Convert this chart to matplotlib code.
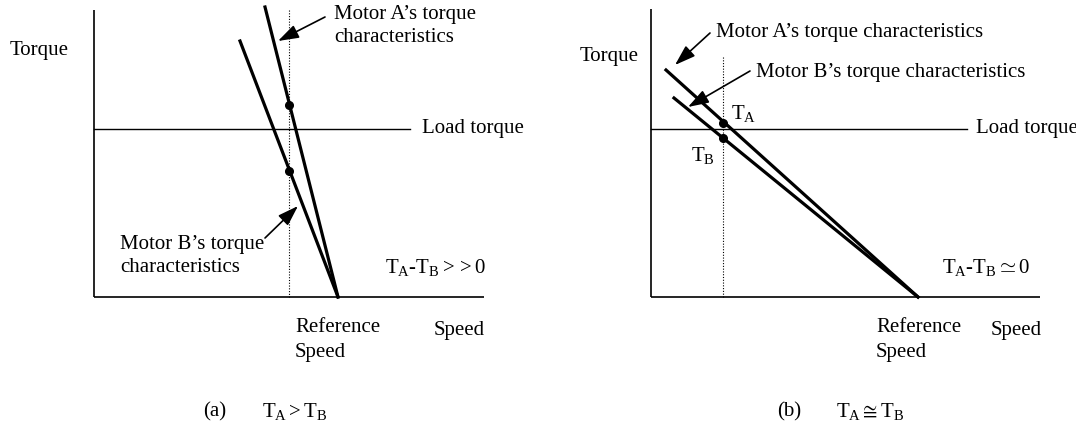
import matplotlib.pyplot as plt
import matplotlib as mpl

params = {
    "font.family": ["Liberation Serif", "DejaVu Serif"],
    "font.size": 15,
    "mathtext.fontset": "custom",
    "mathtext.rm": "Liberation Serif",
    "mathtext.it": "Liberation Serif:italic",
    "figure.figsize": [10.76, 4.3],
    "figure.dpi": 100,
}
mpl.rcParams.update(params)

# panel layout in pixel units of the figure (x right, y down)
# (a) T_A > T_B
a_origin = (94, 297)
a_axis_top = 10
a_axis_right = 484
a_load_y = 129
a_load_end = 410
a_ref_x = 289
a_motor_a = ([265, 338], [7, 297])
a_motor_b = ([240, 338], [41, 297])
a_points_y = [105, 171]

# (b) T_A ~= T_B
b_origin = (651, 297)
b_axis_top = 9
b_axis_right = 1040
b_load_y = 129
b_load_end = 967
b_ref_x = 723
b_ref_top = 57
b_motor_a = ([666, 918], [70, 297])
b_motor_b = ([674, 918], [98, 297])
b_points_y = [123, 138]

fig = plt.figure()
ax = fig.add_axes([0, 0, 1, 1])
ax.set_xlim(0, 1076)
ax.set_ylim(430, 0)
ax.axis("off")

arrow = dict(arrowstyle="-|>,head_length=0.9,head_width=0.3", lw=1.2, color="k",
             shrinkA=0, shrinkB=0, mutation_scale=14)


def draw_axes(origin, top, right, load_y, load_end):
    ax.plot([origin[0], origin[0]], [top, origin[1]], c="k", lw=1.2, solid_capstyle="butt")
    ax.plot([origin[0], right], [origin[1], origin[1]], c="k", lw=1.2, solid_capstyle="butt")
    ax.plot([origin[0], load_end], [load_y, load_y], c="k", lw=1.0)


# (a)
draw_axes(a_origin, a_axis_top, a_axis_right, a_load_y, a_load_end)
ax.plot([a_ref_x, a_ref_x], [a_axis_top, a_origin[1]], c="k", lw=0.8, ls=(0, (1, 1.5)))
ax.plot(*a_motor_a, c="k", lw=2.3)
ax.plot(*a_motor_b, c="k", lw=2.3)
ax.plot([a_ref_x] * 2, a_points_y, "o", c="k", ms=5.5)
ax.annotate("", xy=(278, 41), xytext=(325, 17), arrowprops=arrow)
ax.annotate("", xy=(298, 206), xytext=(265, 238), arrowprops=arrow)
ax.text(334, 14, "Motor A’s torque", va="center")
ax.text(334, 38, "characteristics", va="center")
ax.text(120, 245, "Motor B’s torque", va="center")
ax.text(120, 268, "characteristics", va="center")
ax.text(422, a_load_y, "Load torque", va="center")
ax.text(10, 50, "Torque", va="center")
ax.text(385, 268, r"$\mathrm{T_A}$-$\mathrm{T_B} > > 0$", va="center")
ax.text(295, 327, "Reference", va="center")
ax.text(295, 352, "Speed", va="center")
ax.text(434, 330, "Speed", va="center")
ax.text(203, 412, "(a)", va="center")
ax.text(262, 412, r"$\mathrm{T_A} > \mathrm{T_B}$", va="center")

# (b)
draw_axes(b_origin, b_axis_top, b_axis_right, b_load_y, b_load_end)
ax.plot([b_ref_x, b_ref_x], [b_ref_top, b_origin[1]], c="k", lw=0.8, ls=(0, (1, 1.5)))
ax.plot(*b_motor_a, c="k", lw=2.3)
ax.plot(*b_motor_b, c="k", lw=2.3)
ax.plot([b_ref_x] * 2, b_points_y, "o", c="k", ms=5.5)
ax.annotate("", xy=(675, 65), xytext=(710, 33), arrowprops=arrow)
ax.annotate("", xy=(688, 107), xytext=(750, 71), arrowprops=arrow)
ax.text(716, 32, "Motor A’s torque characteristics", va="center")
ax.text(756, 73, "Motor B’s torque characteristics", va="center")
ax.text(731, 113, r"$\mathrm{T_A}$", va="center")
ax.text(691, 155, r"$\mathrm{T_B}$", va="center")
ax.text(976, b_load_y, "Load torque", va="center")
ax.text(580, 57, "Torque", va="center")
ax.text(942, 268, r"$\mathrm{T_A}$-$\mathrm{T_B} \simeq 0$", va="center")
ax.text(876, 327, "Reference", va="center")
ax.text(876, 352, "Speed", va="center")
ax.text(991, 330, "Speed", va="center")
ax.text(777, 412, "(b)", va="center")
ax.text(836, 412, r"$\mathrm{T_A} \cong \mathrm{T_B}$", va="center")

fig.savefig("out.png", dpi=100)
